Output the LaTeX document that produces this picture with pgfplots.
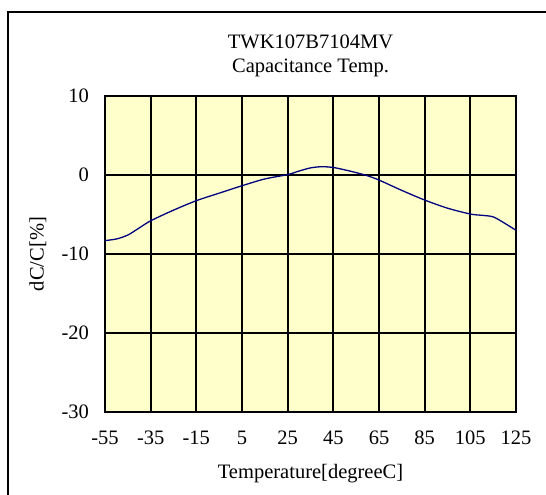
\documentclass[border=0pt]{standalone}
\usepackage{pgfplots}
\pgfplotsset{compat=1.18}
\usepackage{fontspec}
\setmainfont{Liberation Serif}
\definecolor{plotbg}{HTML}{FFFFCC}
\definecolor{curve}{HTML}{000080}
\begin{document}
\fontsize{20.5}{24}\selectfont
\begin{tikzpicture}[x=1pt,y=1pt]
  \useasboundingbox (0,0) rectangle (546,495);
  % outer frame (runs off the right and bottom edges)
  \draw[line width=1.6pt] (8,-20) -- (8,483) -- (570,483);
  \begin{axis}[
    at={(105pt,83pt)},
    anchor=south west,
    width=411pt,
    height=316pt,
    scale only axis,
    xmin=-55, xmax=125,
    ymin=-30, ymax=10,
    xtick={-55,-35,...,125},
    ytick={-30,-20,...,10},
    major tick length=0pt,
    grid=major,
    major grid style={black, line width=1.9pt},
    axis line style={line width=2.6pt},
    axis background/.style={fill=plotbg},
    /pgf/number format/assume math mode=true,
    ticklabel style={font=\fontsize{20.5}{24}\selectfont},
    xticklabel style={yshift=-12pt},
    yticklabel style={xshift=-9pt},
    xlabel={Temperature[degreeC]},
    ylabel={dC/C[\%]},
    xlabel style={at={(axis description cs:0.5,-0.196)}, anchor=center},
    ylabel style={at={(axis description cs:-0.163,0.5)}, anchor=center},
    clip=false,
  ]
    \addplot[color=curve, line width=1.3pt, smooth] coordinates {
      (-55,-8.3) (-50,-8.1) (-45,-7.6) (-40,-6.7) (-35,-5.8)
      (-25,-4.45) (-15,-3.25) (-5,-2.3) (5,-1.36) (15,-0.5)
      (25,0.05) (30,0.5) (35,0.9) (40,1.05) (45,0.95)
      (50,0.65) (55,0.3) (60,-0.1) (65,-0.64) (75,-1.95)
      (85,-3.17) (95,-4.2) (105,-4.94) (110,-5.1) (115,-5.3)
      (120,-6.1) (125,-7.0)
    };
    \node[anchor=base] at (rel axis cs:0.5,1) [yshift=23pt] {Capacitance Temp.};
    \node[anchor=base] at (rel axis cs:0.5,1) [yshift=47pt] {TWK107B7104MV};
  \end{axis}
\end{tikzpicture}
\end{document}
